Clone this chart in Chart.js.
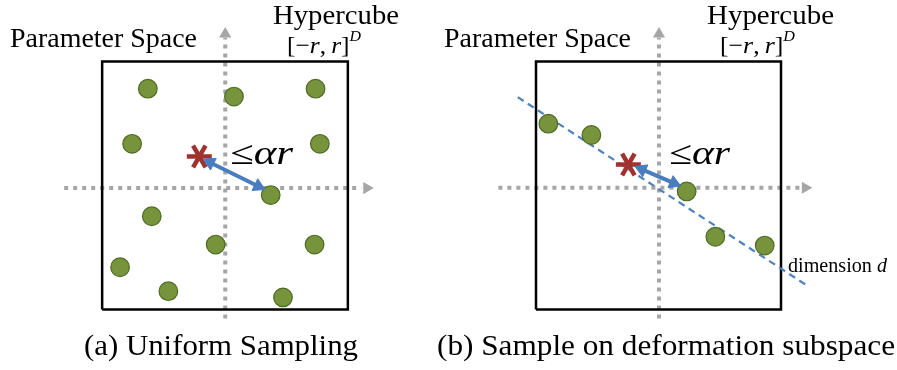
<!DOCTYPE html>
<html>
<head>
<meta charset="utf-8">
<script src="https://cdn.jsdelivr.net/npm/chart.js@4.4.1/dist/chart.umd.min.js"></script>
<style>
  html, body { margin: 0; padding: 0; background: #fff; }
  #wrap { position: relative; width: 897px; height: 370px; overflow: hidden; }
  canvas { position: absolute; top: 0; }
  #panelA { left: 0; }
  #panelB { left: 430px; }
</style>
</head>
<body>
<div id="wrap">
  <canvas id="panelA" width="430" height="370"></canvas>
  <canvas id="panelB" width="467" height="370"></canvas>
</div>
<script>
// all values are in units of r, origin at the centre of the hypercube

// hypercube outline [-r, r]^D
const cubeX = [-1, 1, 1, -1, -1];
const cubeY = [-1, -1, 1, 1, -1];

// (a) uniform sampling
const uniformX = [-0.628, 0.073, 0.737, -0.756, 0.772, 0.372, -0.596, -0.076, 0.729, -0.854, -0.461, 0.472];
const uniformY = [0.780, 0.717, 0.780, 0.336, 0.336, -0.077, -0.248, -0.476, -0.476, -0.659, -0.852, -0.902];
const targetA = [-0.209, 0.234];
const reachAX = [-0.122, 0.271];
const reachAY = [0.185, -0.006];
const hAxisAX = [-1.309, 1.11];
const hAxisAY = [-0.021, -0.021];
const vAxisAX = [0.002, 0.002];
const vAxisAY = [-1.071, 1.19];
const headsAX = [1.154, 0.002];
const headsAY = [-0.021, 1.222];

// (b) sampling on the deformation subspace
const subspaceX = [-0.899, -0.548, 0.230, 0.464, 0.867];
const subspaceY = [0.498, 0.407, -0.048, -0.413, -0.484];
const targetB = [-0.246, 0.169];
const reachBX = [-0.136, 0.126];
const reachBY = [0.130, 0.019];
const dimLineX = [-1.149, 1.209];
const dimLineY = [0.712, -0.804];
const hAxisBX = [-1.307, 1.16];
const hAxisBY = [-0.018, -0.018];
const vAxisBX = [0.004, 0.004];
const vAxisBY = [-1.071, 1.19];
const headsBX = [1.199, 0.004];
const headsBY = [-0.018, 1.222];

const SERIF = '"Liberation Serif", "DejaVu Serif", serif';
const GREY = '#a6a6a6';
const BLUE = '#4a7dc0';

function zip(xs, ys) {
  return xs.map((x, i) => ({ x: x, y: ys[i] }));
}

// outward direction of each end of a two point segment, for the arrow heads
function headRotation(c) {
  const ch = c.chart;
  const pts = ch.data.datasets[c.datasetIndex].data;
  const i = c.dataIndex, j = 1 - i;
  const sx = ch.scales.x, sy = ch.scales.y;
  const dx = sx.getPixelForValue(pts[i].x) - sx.getPixelForValue(pts[j].x);
  const dy = sy.getPixelForValue(pts[i].y) - sy.getPixelForValue(pts[j].y);
  return Math.atan2(dy, dx) * 180 / Math.PI + 90;
}

function drawItem(ctx, item) {
  ctx.save();
  ctx.fillStyle = '#000';
  ctx.textAlign = 'left';
  ctx.textBaseline = 'alphabetic';
  let total = 0;
  item.runs.forEach(r => { ctx.font = r.font; total += ctx.measureText(r.t).width; });
  const sx = item.width ? item.width / total : 1;
  ctx.translate(item.x, item.y);
  ctx.scale(sx, 1);
  let cx = 0;
  item.runs.forEach(r => {
    ctx.font = r.font;
    ctx.fillText(r.t, cx, -(r.dy || 0));
    cx += ctx.measureText(r.t).width;
  });
  ctx.restore();
}

const textPlugin = {
  id: 'panelText',
  afterDraw(chart, args, opts) {
    (opts.items || []).forEach(item => drawItem(chart.ctx, item));
  }
};

function plain(t, size) { return [{ t: t, font: size + 'px ' + SERIF }]; }
function cubeLabel() {
  return [
    { t: '[\u2212', font: '24px ' + SERIF },
    { t: 'r', font: 'italic 24px ' + SERIF },
    { t: ',\u2009', font: '24px ' + SERIF },
    { t: 'r', font: 'italic 24px ' + SERIF },
    { t: ']', font: '24px ' + SERIF },
    { t: 'D', font: 'italic 15px ' + SERIF, dy: 12 }
  ];
}
function boundLabel() {
  return [
    { t: '\u2264', font: '33px ' + SERIF },
    { t: '\u03b1r', font: 'italic 33px ' + SERIF }
  ];
}

function baseDatasets(hx, hy, vx, vy, headX, headY, reachX, reachY, target, dotsX, dotsY) {
  return [
    {
      data: zip(hx, hy), showLine: true, clip: false, order: 9,
      borderColor: GREY, borderWidth: 4, borderDash: [4, 5], pointRadius: 0
    },
    {
      data: zip(vx, vy), showLine: true, clip: false, order: 9,
      borderColor: GREY, borderWidth: 4, borderDash: [4, 5], pointRadius: 0
    },
    {
      data: zip(headX, headY), clip: false, order: 8,
      pointStyle: 'triangle', pointRadius: 7, pointRotation: [90, 0],
      pointBackgroundColor: GREY, pointBorderColor: GREY, pointBorderWidth: 0
    },
    {
      data: zip(cubeX, cubeY), showLine: true, clip: false, order: 6,
      borderColor: '#000', borderWidth: 2.5, borderJoinStyle: 'miter', pointRadius: 0
    },
    {
      data: zip(dotsX, dotsY), clip: false, order: 4,
      pointRadius: 9.3, pointBackgroundColor: '#77933c',
      pointBorderColor: '#4e6b24', pointBorderWidth: 1.2
    },
    {
      data: zip([target[0], target[0], target[0]], [target[1], target[1], target[1]]),
      clip: false, order: 3,
      pointStyle: 'line', pointRadius: 12.5, pointRotation: [0, 60, 120],
      pointBorderColor: '#a0322f', pointBorderWidth: 4.5
    },
    {
      data: zip(reachX, reachY), showLine: true, clip: false, order: 2,
      borderColor: BLUE, borderWidth: 4,
      pointStyle: 'triangle', pointRadius: 7.5, pointRotation: headRotation,
      pointBackgroundColor: BLUE, pointBorderColor: BLUE, pointBorderWidth: 1
    }
  ];
}

// the plotting area is wider than the cube so that the axis arrows stay inside it
function makePanel(id, padding, datasets, items) {
  return new Chart(document.getElementById(id), {
    type: 'scatter',
    data: { datasets: datasets },
    options: {
      responsive: false,
      animation: false,
      events: [],
      layout: { padding: padding },
      scales: {
        x: { type: 'linear', min: -1.4, max: 1.4, display: false },
        y: { type: 'linear', min: -1.35, max: 1.35, display: false }
      },
      plugins: {
        legend: { display: false },
        tooltip: { enabled: false },
        panelText: { items: items }
      }
    },
    plugins: [textPlugin]
  });
}

const dsA = baseDatasets(hAxisAX, hAxisAY, vAxisAX, vAxisAY, headsAX, headsAY,
  reachAX, reachAY, targetA, uniformX, uniformY);

makePanel('panelA', { left: 53, right: 33, top: 18, bottom: 12 }, dsA, [
  { x: 10, y: 47, width: 187, runs: plain('Parameter Space', 27) },
  { x: 273, y: 24, width: 126, runs: plain('Hypercube', 27) },
  { x: 287, y: 53, width: 74, runs: cubeLabel() },
  { x: 230, y: 164, width: 63, runs: boundLabel() },
  { x: 84, y: 355, width: 274, runs: plain('(a) Uniform Sampling', 29) }
]);

const dsB = baseDatasets(hAxisBX, hAxisBY, vAxisBX, vAxisBY, headsBX, headsBY,
  reachBX, reachBY, targetB, subspaceX, subspaceY);
dsB.push({
  data: zip(dimLineX, dimLineY), showLine: true, clip: false, order: 5,
  borderColor: '#4f81bd', borderWidth: 2.2, borderDash: [7, 5], pointRadius: 0
});

makePanel('panelB', { left: 57, right: 67, top: 18, bottom: 12 }, dsB, [
  { x: 14, y: 47, width: 187, runs: plain('Parameter Space', 27) },
  { x: 277, y: 24, width: 127, runs: plain('Hypercube', 27) },
  { x: 290, y: 53, width: 75, runs: cubeLabel() },
  { x: 239, y: 164, width: 61, runs: boundLabel() },
  { x: 358, y: 272, width: 99, runs: [
    { t: 'dimension ', font: '20px ' + SERIF },
    { t: 'd', font: 'italic 20px ' + SERIF }
  ] },
  { x: 7, y: 355, width: 458, runs: plain('(b) Sample on deformation subspace', 29) }
]);
</script>
</body>
</html>
